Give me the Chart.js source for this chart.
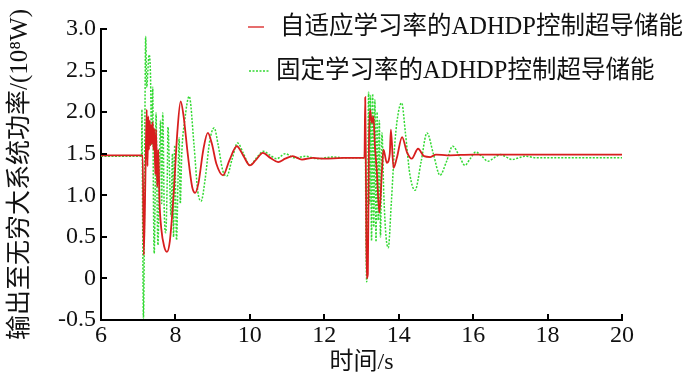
<!DOCTYPE html>
<html>
<head>
<meta charset="utf-8">
<script src="https://cdn.jsdelivr.net/npm/chart.js@4.4.0/dist/chart.umd.min.js"></script>
<style>
html,body{margin:0;padding:0;background:#fff;}
#wrap{width:700px;height:378px;position:relative;}
</style>
</head>
<body>
<div id="wrap"><canvas id="c" width="700" height="378"></canvas></div>
<script>
// ---- data ----
const seriesNames = ['自适应学习率的ADHDP控制超导储能', '固定学习率的ADHDP控制超导储能'];
const xTicks = [6, 8, 10, 12, 14, 16, 18, 20];
const yTicks = [-0.5, 0, 0.5, 1.0, 1.5, 2.0, 2.5, 3.0];
const xTitle = '时间/s';
const yTitle = '输出至无穷大系统功率/(10⁸W)';

const redT = [6.0, 7.12, 7.15, 7.20, 7.23, 7.25, 7.27, 7.29, 7.31, 7.33, 7.35, 7.37, 7.39, 7.41, 7.43, 7.46, 7.48, 7.51, 7.54, 7.57, 7.62, 7.70, 7.77, 7.85, 7.95, 8.05, 8.14, 8.22, 8.33, 8.45, 8.53, 8.62, 8.75, 8.87, 8.98, 9.10, 9.28, 9.45, 9.65, 9.82, 10.0, 10.17, 10.35, 10.55, 10.76, 10.95, 11.15, 11.4, 11.7, 12.0, 12.5, 13.08,
  13.10, 13.12, 13.14, 13.17, 13.20, 13.23, 13.28, 13.32, 13.36, 13.41, 13.48, 13.55, 13.59, 13.68, 13.76, 13.79, 13.86, 13.95, 14.09, 14.22, 14.35, 14.52, 14.68, 14.85, 15.0, 15.3, 16.0, 20.0];
const redV = [1.48, 1.48, 0.28, 1.40, 2.03, 1.35, 1.95, 1.55, 1.90, 1.60, 1.85, 1.62, 1.88, 1.55, 1.80, 1.25, 1.79, 1.10, 1.55, 0.95, 0.60, 0.38, 0.32, 0.45, 1.00, 1.75, 2.13, 1.95, 1.50, 1.10, 1.03, 1.15, 1.55, 1.75, 1.62, 1.38, 1.24, 1.42, 1.59, 1.48, 1.36, 1.43, 1.51, 1.45, 1.40, 1.44, 1.47, 1.43, 1.45, 1.44, 1.45, 1.45,
  2.18, 1.20, 0.00, 0.05, 1.60, 2.03, 1.87, 1.95, 1.60, 1.30, 0.79, 1.30, 1.55, 1.39, 1.50, 1.79, 1.33, 1.45, 1.70, 1.52, 1.44, 1.56, 1.47, 1.46, 1.49, 1.48, 1.49, 1.49];

const greenT = [6.0, 7.09, 7.10, 7.12, 7.14, 7.16, 7.18, 7.20, 7.23, 7.26, 7.29, 7.33, 7.36, 7.39, 7.41, 7.43, 7.46, 7.48, 7.51, 7.53, 7.57, 7.60, 7.63, 7.66, 7.70, 7.74, 7.78, 7.80, 7.84, 7.88, 7.92, 7.95, 7.98, 8.03, 8.07, 8.10, 8.13, 8.17, 8.25, 8.37, 8.50, 8.60, 8.69, 8.80, 8.92, 9.04, 9.15, 9.27, 9.38, 9.52, 9.67, 9.83, 10.0, 10.18, 10.36, 10.55, 10.72, 10.95, 11.2, 11.5, 11.8, 12.2, 12.6, 13.08,
  13.10, 13.12, 13.14, 13.16, 13.19, 13.22, 13.24, 13.27, 13.30, 13.33, 13.36, 13.39, 13.42, 13.45, 13.48, 13.51, 13.55, 13.60, 13.66, 13.72, 13.80, 13.90, 14.0, 14.08, 14.18, 14.30, 14.44, 14.60, 14.76, 14.93, 15.11, 15.28, 15.45, 15.62, 15.78, 15.92, 16.07, 16.23, 16.40, 16.56, 16.73, 16.89, 17.05, 17.22, 17.40, 17.7, 18.2, 20.0];
const greenV = [1.47, 1.47, 2.03, 0.60, -0.48, 0.20, 1.90, 2.91, 2.30, 2.50, 2.69, 2.45, 1.60, 2.30, 0.90, 0.30, 1.20, 1.99, 0.80, 0.40, 1.30, 1.90, 0.90, 1.99, 0.80, 0.55, 1.20, 1.82, 1.30, 0.75, 1.50, 0.50, 1.60, 0.46, 1.20, 1.69, 0.90, 1.50, 1.90, 2.19, 1.60, 1.05, 0.93, 1.20, 1.65, 1.81, 1.60, 1.30, 1.23, 1.43, 1.63, 1.50, 1.36, 1.45, 1.53, 1.48, 1.44, 1.50, 1.45, 1.47, 1.44, 1.46, 1.45, 1.45,
  1.75, 0.50, -0.04, 0.30, 2.24, 0.90, 2.20, 0.45, 2.22, 0.62, 2.15, 0.44, 2.00, 0.70, 1.90, 0.50, 1.75, 1.00, 0.50, 0.37, 0.90, 1.65, 2.02, 2.11, 1.75, 1.25, 1.06, 1.40, 1.75, 1.50, 1.24, 1.40, 1.59, 1.48, 1.36, 1.44, 1.52, 1.47, 1.41, 1.45, 1.49, 1.46, 1.43, 1.45, 1.47, 1.45, 1.45, 1.45];

const toPts = (t, v) => t.map((x, i) => ({x: x, y: v[i]}));

const FONT = "'Liberation Serif', 'Noto Sans CJK SC', serif";
const RED = '#d81e1e';
const GREEN = '#33d933';

const decor = {
  id: 'decor',
  afterDraw(chart) {
    const ctx = chart.ctx;
    const xs = chart.scales.x, ys = chart.scales.y;
    const ca = chart.chartArea;
    ctx.save();
    ctx.strokeStyle = '#000';
    ctx.lineWidth = 2;
    ctx.beginPath();
    xTicks.forEach(v => {
      const px = Math.round(xs.getPixelForValue(v));
      ctx.moveTo(px, ca.bottom);
      ctx.lineTo(px, ca.bottom - 6);
    });
    yTicks.forEach(v => {
      const py = Math.round(ys.getPixelForValue(v));
      ctx.moveTo(ca.left, py);
      ctx.lineTo(ca.left + 6, py);
    });
    ctx.stroke();
    // legend
    const rows = [{x1: 248, x2: 264, tx: 280, y: 27}, {x1: 249, x2: 269, tx: 276, y: 71}];
    ctx.font = '24.5px ' + FONT;
    ctx.textBaseline = 'middle';
    ctx.textAlign = 'left';
    chart.data.datasets.forEach((ds, i) => {
      const r = rows[i];
      ctx.strokeStyle = ds.borderColor;
      ctx.lineWidth = 1.3;
      ctx.setLineDash(ds.borderDash || []);
      ctx.beginPath();
      ctx.moveTo(r.x1, r.y);
      ctx.lineTo(r.x2, r.y);
      ctx.stroke();
      ctx.setLineDash([]);
      ctx.fillStyle = '#111';
      ctx.fillText(ds.label, r.tx, r.y + 1);
    });
    ctx.restore();
  }
};

new Chart(document.getElementById('c'), {
  type: 'line',
  data: {
    datasets: [
      {label: seriesNames[0], data: toPts(redT, redV), borderColor: RED, borderWidth: 1.8, pointRadius: 0, cubicInterpolationMode: 'monotone', fill: false},
      {label: seriesNames[1], data: toPts(greenT, greenV), borderColor: GREEN, borderWidth: 1.5, borderDash: [2, 1.5], pointRadius: 0, cubicInterpolationMode: 'monotone', fill: false}
    ]
  },
  options: {
    responsive: false,
    animation: false,
    layout: {padding: {top: 29, right: 78, left: 0, bottom: 0}},
    plugins: {legend: {display: false}, tooltip: {enabled: false}},
    scales: {
      x: {
        type: 'linear', min: 6, max: 20,
        afterBuildTicks: s => { s.ticks = xTicks.map(v => ({value: v})); },
        afterFit: s => { s.height = 58; },
        grid: {display: false, drawTicks: false},
        border: {display: true, color: '#000', width: 2},
        ticks: {color: '#111', font: {family: FONT, size: 24}, padding: 1, maxRotation: 0, autoSkip: false,
                callback: v => String(v)},
        title: {display: true, text: xTitle, color: '#111', font: {family: FONT, size: 24}, padding: {top: 0, bottom: 1}}
      },
      y: {
        type: 'linear', min: -0.5, max: 3.0,
        afterBuildTicks: s => { s.ticks = yTicks.map(v => ({value: v})); },
        afterFit: s => { s.width = 101; },
        grid: {display: false, drawTicks: false},
        border: {display: true, color: '#000', width: 2},
        ticks: {color: '#111', font: {family: FONT, size: 24}, padding: 5, autoSkip: false,
                callback: v => (v === 0 ? '0' : v.toFixed(1))},
        title: {display: true, text: yTitle, color: '#111', font: {family: FONT, size: 25}, padding: {top: 5, bottom: 0}}
      }
    }
  },
  plugins: [decor]
});
</script>
</body>
</html>
